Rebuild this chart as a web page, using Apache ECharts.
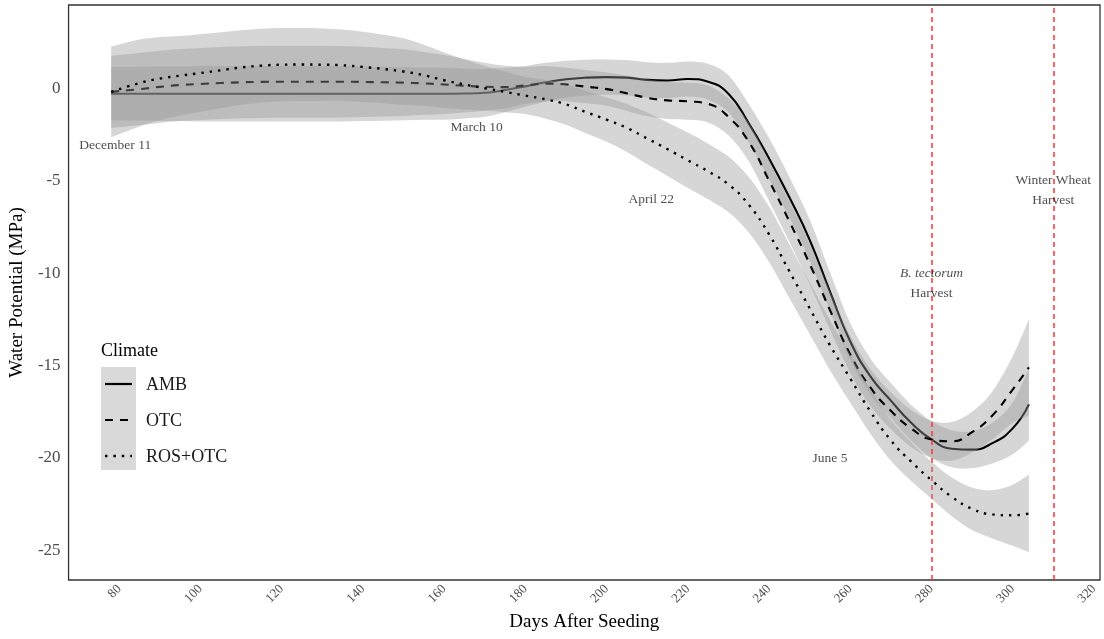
<!DOCTYPE html>
<html>
<head>
<meta charset="utf-8">
<script src="https://cdn.jsdelivr.net/npm/echarts@6/dist/echarts.min.js"></script>
<style>
  html, body { margin: 0; padding: 0; background: #fff; }
  #chart { width: 1104px; height: 639px; }
</style>
</head>
<body>
<div id="chart"></div>
<script>
// Days after seeding at which each fitted curve is sampled
const days = [78, 85, 90, 95, 100, 105, 110, 115, 120, 125, 130, 135, 140, 145, 150, 155, 160, 165, 170, 175,
  180, 185, 190, 195, 200, 205, 210, 215, 220, 225, 230, 235, 240, 245, 250, 255, 260, 265, 270, 275,
  280, 285, 290, 295, 300, 304];

// AMB: fitted water potential (MPa) and confidence band
const ambMean = [-0.3, -0.3, -0.3, -0.3, -0.3, -0.3, -0.3, -0.3, -0.3, -0.3, -0.3, -0.3, -0.3, -0.3, -0.3, -0.3, -0.3, -0.29, -0.25, -0.1,
  0.1, 0.32, 0.48, 0.57, 0.6, 0.57, 0.45, 0.42, 0.5, 0.35, -0.3, -1.9, -3.8, -5.9, -8.2, -11.0, -13.7, -15.6, -16.9, -18.1,
  -19.0, -19.5, -19.55, -19.2, -18.4, -17.1];
const ambLo = [-1.75, -1.75, -1.77, -1.78, -1.8, -1.8, -1.8, -1.8, -1.8, -1.8, -1.8, -1.8, -1.78, -1.76, -1.73, -1.71, -1.7, -1.64, -1.55, -1.3,
  -1.0, -0.73, -0.52, -0.4, -0.35, -0.38, -0.5, -0.53, -0.45, -0.62, -1.3, -2.95, -4.9, -7.0, -9.3, -12.05, -14.7, -16.57, -17.85, -19.07,
  -20.0, -20.5, -20.55, -20.3, -19.8, -19.05];
const ambHi = [1.15, 1.15, 1.17, 1.18, 1.2, 1.2, 1.2, 1.2, 1.2, 1.2, 1.2, 1.2, 1.18, 1.16, 1.13, 1.11, 1.1, 1.06, 1.05, 1.1,
  1.2, 1.37, 1.48, 1.54, 1.55, 1.52, 1.4, 1.37, 1.45, 1.32, 0.7, -0.85, -2.7, -4.8, -7.1, -9.95, -12.7, -14.63, -15.95, -17.13,
  -18.0, -18.5, -18.55, -18.1, -17.0, -15.15];

// OTC
const otcMean = [-0.2, -0.05, 0.07, 0.17, 0.23, 0.28, 0.32, 0.34, 0.35, 0.35, 0.35, 0.35, 0.34, 0.32, 0.3, 0.26, 0.2, 0.13, 0.08, 0.06,
  0.15, 0.25, 0.2, 0.08, -0.05, -0.28, -0.52, -0.66, -0.71, -0.85, -1.55, -2.9, -5.0, -7.2, -9.5, -12.0, -14.4, -16.2, -17.45, -18.4,
  -19.0, -19.1, -18.6, -17.7, -16.3, -15.1];
const otcLo = [-2.15, -2.0, -1.88, -1.78, -1.72, -1.67, -1.63, -1.61, -1.6, -1.6, -1.6, -1.58, -1.56, -1.53, -1.5, -1.44, -1.4, -1.32, -1.22, -1.09,
  -0.85, -0.7, -0.7, -0.82, -0.95, -1.23, -1.52, -1.66, -1.71, -1.85, -2.55, -3.95, -6.1, -8.3, -10.6, -13.05, -15.4, -17.2, -18.45, -19.4,
  -20.0, -20.15, -19.7, -19.0, -18.1, -17.7];
const otcHi = [1.75, 1.9, 2.02, 2.12, 2.18, 2.23, 2.27, 2.29, 2.3, 2.3, 2.3, 2.28, 2.24, 2.17, 2.1, 1.96, 1.8, 1.58, 1.38, 1.21,
  1.15, 1.2, 1.1, 0.98, 0.85, 0.67, 0.48, 0.34, 0.29, 0.15, -0.55, -1.85, -3.9, -6.1, -8.4, -10.95, -13.4, -15.2, -16.45, -17.4,
  -18.0, -18.05, -17.5, -16.4, -14.5, -12.5];

// ROS+OTC
const rosMean = [-0.2, 0.28, 0.52, 0.68, 0.82, 0.97, 1.12, 1.22, 1.27, 1.28, 1.27, 1.24, 1.15, 1.04, 0.9, 0.7, 0.43, 0.2, 0.0, -0.2,
  -0.4, -0.6, -0.88, -1.3, -1.7, -2.15, -2.72, -3.3, -3.9, -4.5, -5.2, -6.3, -7.9, -9.9, -11.9, -13.9, -15.7, -17.5, -19.05, -20.2,
  -21.2, -22.1, -22.75, -23.05, -23.1, -23.0];
const rosLo = [-2.65, -2.07, -1.73, -1.47, -1.28, -1.08, -0.9, -0.78, -0.71, -0.69, -0.69, -0.69, -0.75, -0.81, -0.9, -0.95, -1.07, -1.15, -1.2, -1.3,
  -1.4, -1.65, -1.98, -2.45, -2.9, -3.45, -4.12, -4.75, -5.4, -6.0, -6.7, -7.8, -9.4, -11.35, -13.3, -15.25, -17.0, -18.7, -20.15, -21.25,
  -22.2, -23.15, -23.9, -24.35, -24.75, -25.1];
const rosHi = [2.25, 2.63, 2.77, 2.83, 2.92, 3.02, 3.14, 3.22, 3.25, 3.25, 3.23, 3.17, 3.05, 2.89, 2.7, 2.35, 1.93, 1.55, 1.2, 0.9,
  0.6, 0.45, 0.22, -0.15, -0.5, -0.85, -1.32, -1.85, -2.4, -3.0, -3.7, -4.8, -6.4, -8.45, -10.5, -12.55, -14.4, -16.3, -17.95, -19.15,
  -20.2, -21.05, -21.6, -21.75, -21.45, -20.9];

// Axis ticks
const xTicks = [80, 100, 120, 140, 160, 180, 200, 220, 240, 260, 280, 300, 320];
const yTicks = [-25, -20, -15, -10, -5, 0];

// Calendar reference dates
const eventDays = [79, 168, 211, 255];
const eventValues = [-3.1, -2.1, -6.0, -20.0];
const eventNames = ['December 11', 'March 10', 'April 22', 'June 5'];

// Harvest dates
const harvestDays = [280, 310];
const harvestLabelValues = [-10.55, -5.55];
const harvestNames = ['{i|B. tectorum}\nHarvest', 'Winter Wheat\nHarvest'];

// Legend entries
const climates = ['AMB', 'OTC', 'ROS+OTC'];

const SERIF = 'Liberation Serif';
const RIBBON = 'rgba(153,153,153,0.4)';
const DASHES = [null, [8, 7], [2.4, 6]];

// Catmull-Rom spline through pixel points as cubic Bezier path commands
function spline(pts) {
  let d = '';
  for (let i = 0; i < pts.length - 1; i++) {
    const p0 = pts[i - 1] || pts[i];
    const p1 = pts[i];
    const p2 = pts[i + 1];
    const p3 = pts[i + 2] || p2;
    const c1x = p1[0] + (p2[0] - p0[0]) / 6, c1y = p1[1] + (p2[1] - p0[1]) / 6;
    const c2x = p2[0] - (p3[0] - p1[0]) / 6, c2y = p2[1] - (p3[1] - p1[1]) / 6;
    d += ' C' + c1x + ' ' + c1y + ' ' + c2x + ' ' + c2y + ' ' + p2[0] + ' ' + p2[1];
  }
  return d;
}

function ribbon(name, lo, hi, z) {
  return {
    name: name + ' band',
    type: 'custom',
    z: z,
    silent: true,
    data: [[days[0], lo[0]]],
    encode: { x: 0, y: 1 },
    renderItem: function (params, api) {
      const top = days.map((d, i) => api.coord([d, hi[i]]));
      const bot = days.map((d, i) => api.coord([d, lo[i]])).reverse();
      const path = 'M' + top[0][0] + ' ' + top[0][1] + spline(top) +
        ' L' + bot[0][0] + ' ' + bot[0][1] + spline(bot) + ' Z';
      return { type: 'path', shape: { pathData: path }, style: { fill: RIBBON, stroke: null } };
    }
  };
}

function curve(name, mean, dash, width, z) {
  return {
    name: name,
    type: 'line',
    z: z,
    data: days.map((d, i) => [d, mean[i]]),
    showSymbol: false,
    symbol: 'none',
    smooth: 0.5,
    silent: true,
    lineStyle: { color: '#000', width: width, type: dash || 'solid', cap: 'butt' }
  };
}

// Legend drawn as key lines on a grey key panel with labels
const legendGraphics = [
  { type: 'rect', left: 101, top: 367, shape: { width: 35, height: 103 }, style: { fill: '#d9d9d9' }, z: 10 },
  { type: 'text', left: 101, top: 342, style: { text: 'Climate', font: '18px "Liberation Serif"', fill: '#000' }, z: 10 }
];
climates.forEach((c, i) => {
  const y = 384 + i * 36;
  legendGraphics.push({
    type: 'line', z: 11,
    shape: { x1: 105, y1: y, x2: 132, y2: y },
    style: { stroke: '#000', lineWidth: i === 2 ? 2.4 : 2.2, lineDash: DASHES[i] || null }
  });
  legendGraphics.push({
    type: 'text', z: 11, left: 146, top: y - 8,
    style: { text: c, font: '18px "Liberation Serif"', fill: '#1a1a1a' }
  });
});

const chart = echarts.init(document.getElementById('chart'), null, { renderer: 'canvas' });

chart.setOption({
  animation: false,
  backgroundColor: '#fff',
  textStyle: { fontFamily: SERIF },
  grid: { left: 65, right: 4, top: 5, bottom: 59, show: true, borderColor: '#333', borderWidth: 1.3, backgroundColor: 'transparent' },
  xAxis: {
    type: 'value', min: 67.5, max: 321.5,
    name: 'Days After Seeding', nameLocation: 'middle', nameGap: 31,
    nameTextStyle: { fontFamily: SERIF, fontSize: 19, color: '#000' },
    axisLine: { show: false }, axisTick: { show: false }, splitLine: { show: false },
    axisLabel: { customValues: xTicks, rotate: 45, margin: 7, fontFamily: SERIF, fontSize: 13, color: '#4d4d4d' }
  },
  yAxis: {
    type: 'value', min: -26.6, max: 4.5,
    name: 'Water Potential (MPa)', nameLocation: 'middle', nameGap: 33,
    nameTextStyle: { fontFamily: SERIF, fontSize: 19, color: '#000' },
    axisLine: { show: false }, axisTick: { show: false }, splitLine: { show: false },
    axisLabel: { customValues: yTicks, margin: 8, fontFamily: SERIF, fontSize: 17, color: '#4d4d4d' }
  },
  graphic: legendGraphics,
  series: [
    ribbon('AMB', ambLo, ambHi, 1),
    curve('AMB', ambMean, DASHES[0], 2.1, 2),
    ribbon('OTC', otcLo, otcHi, 3),
    curve('OTC', otcMean, DASHES[1], 2.1, 4),
    ribbon('ROS+OTC', rosLo, rosHi, 5),
    curve('ROS+OTC', rosMean, DASHES[2], 2.4, 6),
    {
      name: 'harvest', type: 'line', data: [], z: 7, silent: true,
      markLine: {
        silent: true, symbol: 'none', label: { show: false },
        lineStyle: { color: '#ff3030', width: 1.5, type: [5, 4], opacity: 1 },
        emphasis: { disabled: true },
        data: harvestDays.map(d => ({ xAxis: d }))
      }
    },
    {
      name: 'dates', type: 'scatter', z: 8, silent: true, symbolSize: 1,
      itemStyle: { color: 'transparent' },
      data: eventDays.map((d, i) => [d, eventValues[i]]),
      label: {
        show: true, position: 'inside', fontFamily: SERIF, fontSize: 13.5, color: '#222',
        formatter: p => eventNames[p.dataIndex]
      }
    },
    {
      name: 'harvest labels', type: 'scatter', z: 8, silent: true, symbolSize: 1,
      itemStyle: { color: 'transparent' },
      data: harvestDays.map((d, i) => [d, harvestLabelValues[i]]),
      label: {
        show: true, position: 'inside', fontFamily: SERIF, fontSize: 13.5, color: '#222', lineHeight: 20, align: 'center',
        formatter: p => harvestNames[p.dataIndex],
        rich: { i: { fontStyle: 'italic', fontFamily: SERIF, fontSize: 13.5, color: '#222', lineHeight: 20 } }
      }
    }
  ]
});
</script>
</body>
</html>
